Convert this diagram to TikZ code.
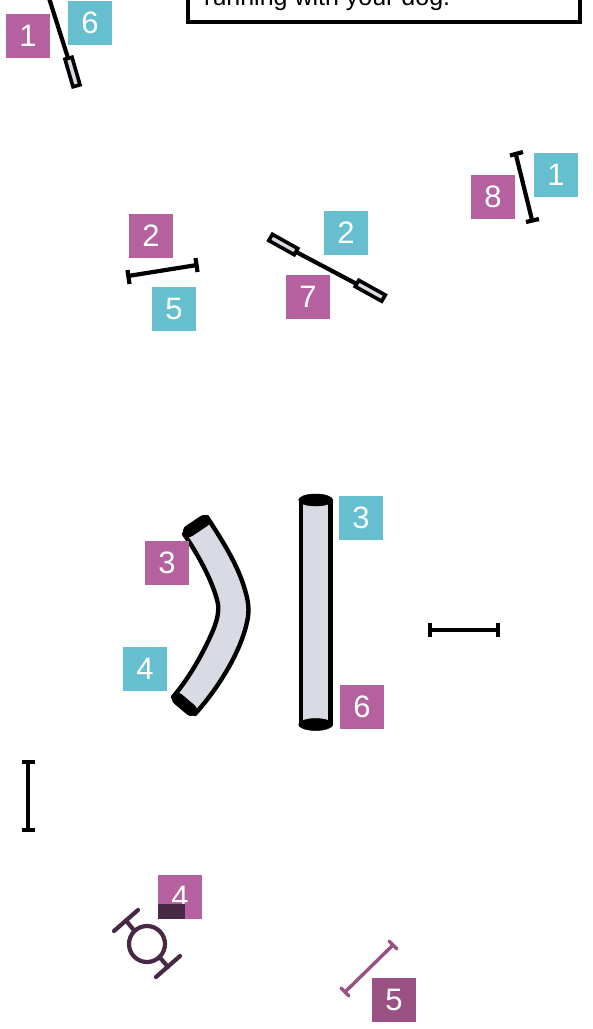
\documentclass[tikz,border=0pt]{standalone}
\usepackage{fontspec}
\setmainfont{Liberation Sans}
\definecolor{mag}{HTML}{B5609F}
\definecolor{magd}{HTML}{985182}
\definecolor{teal2}{HTML}{66BFCF}
\definecolor{plum}{HTML}{472845}
\definecolor{tube}{HTML}{D8DBE3}
\tikzset{
  numbox/.style={minimum width=44pt,minimum height=44pt,inner sep=0pt,text=white,font=\fontsize{31}{32}\selectfont},
  mbox/.style={numbox,fill=mag},
  tbox/.style={numbox,fill=teal2},
  dbox/.style={numbox,fill=magd},
  jump/.style={line width=4.2pt,black},
  endtube/.style={draw=black,line width=3.6pt,fill=tube,line join=miter},
  tubeline/.style={draw=black,line width=4.4pt,fill=tube,line join=round},
  tubeend/.style={draw=black,line cap=round},
  tubecap/.style={draw=black,fill=black,line width=0.5pt}
}
\begin{document}
\begin{tikzpicture}[x=1pt,y=-1pt]
\useasboundingbox (0,0) rectangle (593,1029);
\begin{scope}
\clip (0,0) rectangle (593,1029);
\fill[white] (0,0) rectangle (593,1029);
\draw[line width=4.8pt,fill=white] (188,-30) rectangle (580,22);
\node[anchor=base west,inner sep=0pt,font=\fontsize{25}{27}\selectfont] (caption) at (204,5) {running with your dog.};

% weave 1 top left
\coordinate (w1a) at (49,-2);
\coordinate (w1b) at (68,58);
\draw[jump] (w1a) -- (w1b);
\draw[endtube] (65,59.2) -- (72,57.2) -- (80,84.8) -- (73,86.8) -- cycle;

% jump 8/1
\draw[jump] (516,155) -- (532,220);
\draw[jump] (510,155.5) -- (523,152);
\draw[jump] (526,222) -- (539,219);

% jump 2/5
\draw[jump] (128,276) -- (197,265);
\draw[jump] (127.5,270) -- (129.5,284);
\draw[jump] (195.5,258) -- (197.5,272);

% double weave 2/7
\draw[jump] (283,245) -- (370,291);
\draw[endtube] (272.4,234.3) -- (268.8,240.5) -- (294.2,254.7) -- (297.8,248.5) -- cycle;
\draw[endtube] (358.8,280.3) -- (355.2,286.5) -- (381.7,301.2) -- (385.3,295) -- cycle;

% curved tunnel
\draw[tubeline] (184,534) .. controls (195,550) and (213,580) .. (218,604)
  .. controls (219,612) and (217,620) .. (214,628)
  .. controls (205,650) and (190,677) .. (173,697)
  -- (195,714)
  .. controls (215,692) and (240,655) .. (247,622)
  .. controls (250,610) and (248,600) .. (245,590)
  .. controls (238,565) and (222,540) .. (207,517) -- cycle;
\draw[tubeend,line width=12pt] (189,531) -- (204,521);
\draw[tubeend,line width=12pt] (178,699) -- (191,710);

% straight tunnel
\draw[tubeline] (301,500) rectangle (330.5,725);
\draw[tubecap] (315.7,500) ellipse (17pt and 6pt);
\draw[tubecap] (315.7,724.5) ellipse (17pt and 6pt);

% jump right
\draw[jump] (430,630) -- (498,630);
\draw[jump] (430,623) -- (430,637);
\draw[jump] (498,623) -- (498,637);

% jump left
\draw[jump] (28,762) -- (28,830);
\draw[jump] (21.5,762) -- (35,762);
\draw[jump] (21.5,830) -- (35,830);

% labels
\node[mbox] (m1) at (28,36) {1};
\node[tbox] (t6) at (90,23) {6};
\node[mbox] (m8) at (493,197) {8};
\node[tbox] (t1) at (556,175) {1};
\node[mbox] (m2) at (151,236) {2};
\node[tbox] (t5) at (174,308.5) {5};
\node[tbox] (t2) at (346,233) {2};
\node[mbox] (m7) at (308,297) {7};
\node[tbox] (t3) at (361,518) {3};
\node[mbox] (m3) at (167,563) {3};
\node[tbox] (t4) at (145,669) {4};
\node[mbox] (m6) at (362,707) {6};
\node[mbox] (m4) at (180,897) {4};
\node[dbox] (m5) at (394,1000) {5};

% overlap patch
\fill[plum] (158,904) rectangle (185,919);

% wheel
\begin{scope}[draw=plum,line width=4.2pt,line cap=round]
\draw (147,944) circle (18pt);
\draw (114,931) -- (138,910);
\draw (156,977) -- (180,956);
\draw (126,920.5) -- (134.5,931);
\draw (159.5,957) -- (168,967);
\end{scope}

% jump 5
\begin{scope}[draw=magd,line width=3.4pt,line cap=round]
\draw (345,992) -- (393,945);
\draw (341,988) -- (349,996);
\draw (389,941) -- (397,949);
\end{scope}
\end{scope}
\end{tikzpicture}
\end{document}
